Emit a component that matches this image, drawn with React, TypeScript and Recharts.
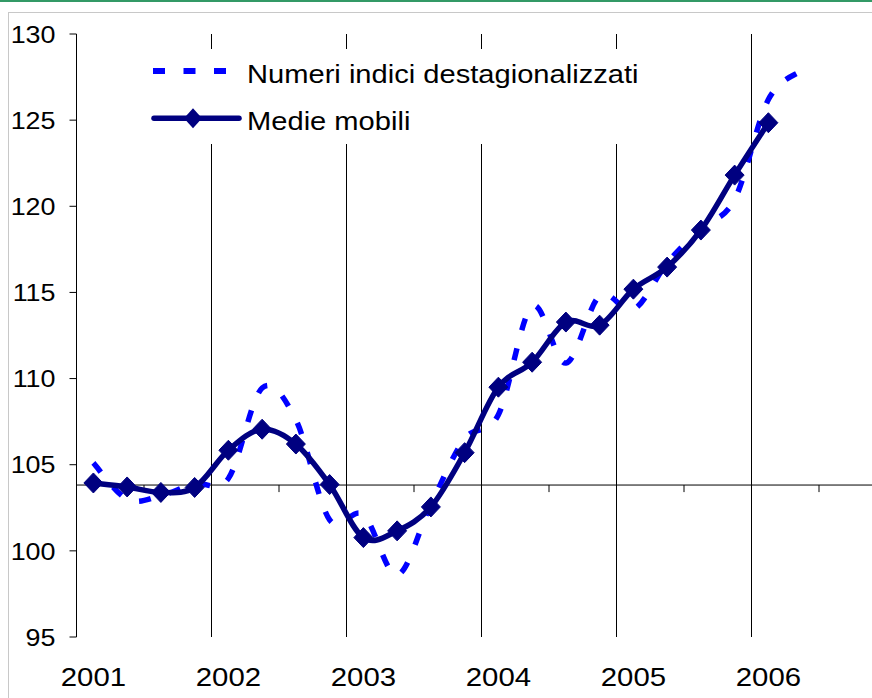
import React from 'react';
import { LineChart, Line, XAxis, YAxis, ReferenceLine, Legend } from 'recharts';

const quarters = [
  '2001 T1', '2001 T2', '2001 T3', '2001 T4',
  '2002 T1', '2002 T2', '2002 T3', '2002 T4',
  '2003 T1', '2003 T2', '2003 T3', '2003 T4',
  '2004 T1', '2004 T2', '2004 T3', '2004 T4',
  '2005 T1', '2005 T2', '2005 T3', '2005 T4',
  '2006 T1', '2006 T2',
];
const destagionalizzati = [
  105.1, 103.0, 103.2, 103.9,
  104.2, 109.45, 107.6, 101.8,
  102.1, 98.6, 102.7, 106.5,
  107.9, 114.2, 110.9, 114.8,
  114.0, 116.7, 118.7, 120.4,
  126.2, 127.9,
];
const medieMobili = [
  103.94, 103.71, 103.39, 103.68,
  105.84, 107.06, 106.2, 103.85,
  100.77, 101.16, 102.55, 105.7,
  109.5, 110.95, 113.28, 113.1,
  115.19, 116.47, 118.62, 121.81,
  124.85,
];
const yearLabels = ['2001', '2002', '2003', '2004', '2005', '2006'];
const yTicks = [95, 100, 105, 110, 115, 120, 125, 130];
const axisCross = 103.82;

const data = quarters.map((q, i) => ({
  pos: i + 0.5,
  quarter: q,
  dest: destagionalizzati[i],
  media: i < medieMobili.length ? medieMobili[i] : null,
}));
const yearTicks = yearLabels.map((_, i) => i * 4 + 0.5);
const gridYears = [4, 8, 12, 16, 20, 24];
const midTicks = [2, 6, 10, 14, 18, 22];

const FONT = '"Liberation Sans", Arial, sans-serif';

// Catmull-Rom style smoothing (like spreadsheet "smoothed line")
const smoothCurve = (context: any) => {
  let pts: number[][] = [];
  return {
    areaStart() {},
    areaEnd() {},
    lineStart() {
      pts = [];
    },
    point(x: number, y: number) {
      pts.push([+x, +y]);
    },
    lineEnd() {
      const n = pts.length;
      if (!n) return;
      context.moveTo(pts[0][0], pts[0][1]);
      for (let i = 0; i < n - 1; i++) {
        const p0 = pts[i > 0 ? i - 1 : i];
        const p1 = pts[i];
        const p2 = pts[i + 1];
        const p3 = pts[i + 2 < n ? i + 2 : i + 1];
        context.bezierCurveTo(
          p1[0] + (p2[0] - p0[0]) / 6,
          p1[1] + (p2[1] - p0[1]) / 6,
          p2[0] - (p3[0] - p1[0]) / 6,
          p2[1] - (p3[1] - p1[1]) / 6,
          p2[0],
          p2[1]
        );
      }
    },
  };
};

const Diamond = (props: any) => {
  const { cx, cy, index } = props;
  if (cx == null || cy == null || props.value == null) return <g key={`e-${index}`} />;
  return (
    <path
      key={`d-${index}`}
      d={`M${cx},${cy - 10}L${cx + 9.5},${cy}L${cx},${cy + 10}L${cx - 9.5},${cy}Z`}
      fill="#000080"
      stroke="#000080"
      strokeWidth={1}
    />
  );
};

const YTick = (props: any) => {
  const { x, y, payload } = props;
  return (
    <text
      transform={`translate(${x - 12},${y}) scale(1.12,1)`}
      textAnchor="end"
      dy="0.36em"
      fontFamily={FONT}
      fontSize={24}
      fill="#000"
    >
      {payload.value}
    </text>
  );
};

const XTick = (props: any) => {
  const { x, y, index } = props;
  return (
    <text
      transform={`translate(${x},${y + 47}) scale(1.13,1)`}
      textAnchor="middle"
      fontFamily={FONT}
      fontSize={26}
      fill="#000"
    >
      {yearLabels[index]}
    </text>
  );
};

const renderLegend = (props: any) => {
  const payload = props.payload || [];
  const destItem = payload.find((p: any) => p.dataKey === 'dest');
  const mediaItem = payload.find((p: any) => p.dataKey === 'media');
  return (
    <svg width={520} height={95} style={{ display: 'block' }}>
      <line x1={13} y1={22} x2={86} y2={22} stroke="#0000FF" strokeWidth={6} strokeDasharray="12 18.5" />
      <text transform="translate(107,33.5) scale(1.12,1)" fontFamily={FONT} fontSize={26} fill="#000">
        {destItem ? destItem.value : ''}
      </text>
      <line x1={14} y1={69.3} x2={99} y2={69.3} stroke="#000080" strokeWidth={5.5} strokeLinecap="round" />
      <path d="M53,59.3L62,69.3L53,79.3L44,69.3Z" fill="#000080" />
      <text transform="translate(107,80.5) scale(1.12,1)" fontFamily={FONT} fontSize={26} fill="#000">
        {mediaItem ? mediaItem.value : ''}
      </text>
    </svg>
  );
};

export default function App() {
  return (
    <div
      style={{
        position: 'absolute',
        left: 0,
        top: 0,
        width: 872,
        height: 698,
        overflow: 'hidden',
        background: '#fff',
      }}
    >
      <div style={{ position: 'absolute', left: 0, top: 0, width: 872, height: 2, background: '#339966' }} />
      <div
        style={{
          position: 'absolute',
          left: 8,
          top: 12,
          width: 1000,
          height: 1000,
          border: '1px solid #c8c8c8',
          boxSizing: 'border-box',
        }}
      />
      <div style={{ position: 'absolute', left: 0, top: 0 }}>
        <LineChart
          width={900}
          height={698}
          data={data}
          margin={{ top: 34, right: 13.5, bottom: 0, left: 8.5 }}
        >
          <XAxis
            dataKey="pos"
            type="number"
            domain={[0, 24]}
            ticks={yearTicks}
            interval={0}
            allowDataOverflow
            axisLine={false}
            tickLine={false}
            tickSize={0}
            height={61}
            tick={<XTick />}
          />
          <YAxis
            domain={[95, 130]}
            ticks={yTicks}
            interval={0}
            allowDataOverflow
            width={68}
            axisLine={{ stroke: '#000', strokeWidth: 1 }}
            tickLine={{ stroke: '#000', strokeWidth: 1 }}
            tickSize={7}
            tick={<YTick />}
          />
          {gridYears.map((g) => (
            <ReferenceLine key={`g-${g}`} x={g} stroke="#000" strokeWidth={1} ifOverflow="visible" />
          ))}
          <ReferenceLine y={axisCross} stroke="#000" strokeWidth={1} />
          {midTicks.map((t) => (
            <ReferenceLine
              key={`t-${t}`}
              segment={[
                { x: t, y: axisCross },
                { x: t, y: axisCross - 0.41 },
              ]}
              stroke="#000"
              strokeWidth={1}
              ifOverflow="visible"
            />
          ))}
          <Legend
            layout="vertical"
            verticalAlign="middle"
            align="center"
            wrapperStyle={{ left: 140, top: 49, width: 520, height: 95, background: '#fff' }}
            content={renderLegend}
          />
          <Line
            dataKey="dest"
            name="Numeri indici destagionalizzati"
            type={smoothCurve as any}
            stroke="#0000FF"
            strokeWidth={5.5}
            strokeDasharray="12 19"
            dot={false}
            activeDot={false}
            isAnimationActive={false}
          />
          <Line
            dataKey="media"
            name="Medie mobili"
            type={smoothCurve as any}
            stroke="#000080"
            strokeWidth={5.5}
            dot={Diamond}
            activeDot={false}
            isAnimationActive={false}
          />
        </LineChart>
      </div>
    </div>
  );
}
